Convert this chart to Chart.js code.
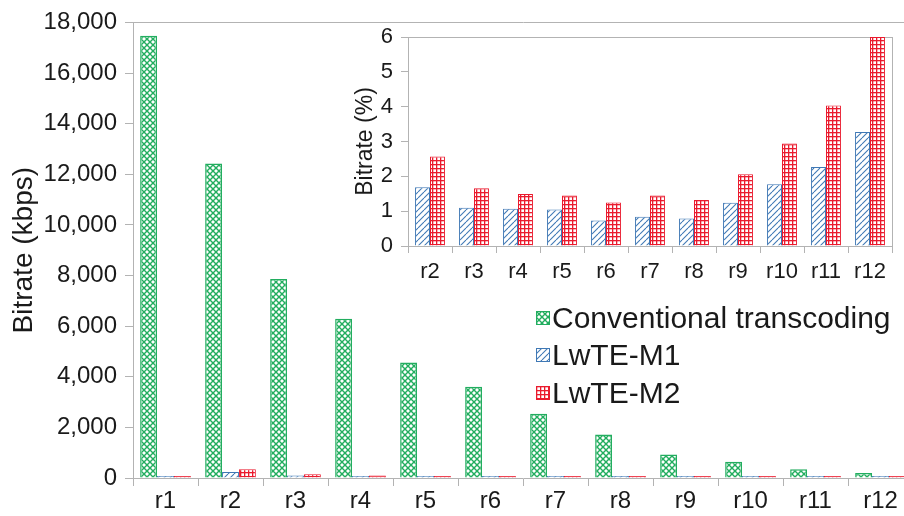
<!DOCTYPE html>
<html>
<head>
<meta charset="utf-8">
<script src="https://cdn.jsdelivr.net/npm/chart.js@4.4.1/dist/chart.umd.min.js"></script>
<style>
  body { margin: 0; background: #fff; overflow: hidden; }
  #wrap { position: relative; width: 920px; height: 516px; }
  #main { position: absolute; left: 0; top: 0; }
  #inset { position: absolute; left: 340px; top: 0; }
  #legend { position: absolute; left: 536px; top: 299px; font-family: 'Liberation Sans', Arial, sans-serif; font-size: 30px; color: #1a1a1a; }
  .row { display: flex; align-items: center; height: 37.5px; white-space: nowrap; }
  .row canvas { margin-right: 2px; }
</style>
</head>
<body>
<div id="wrap">
  <canvas id="main" width="914" height="516"></canvas>
  <canvas id="inset" width="560" height="300"></canvas>
  <div id="legend"></div>
</div>
<script>
// Data
const categories = ['r1', 'r2', 'r3', 'r4', 'r5', 'r6', 'r7', 'r8', 'r9', 'r10', 'r11', 'r12'];
const conventional = [17470, 12430, 7860, 6290, 4560, 3610, 2540, 1720, 930, 640, 350, 200];
const lwteM1 = [10, 240, 100, 75, 48, 26, 21, 14, 12, 11, 8, 6];
const lwteM2 = [10, 350, 150, 100, 66, 45, 37, 23, 19, 19, 14, 12];

const insetCategories = ['r2', 'r3', 'r4', 'r5', 'r6', 'r7', 'r8', 'r9', 'r10', 'r11', 'r12'];
const lwteM1Pct = [1.69, 1.10, 1.07, 1.05, 0.73, 0.84, 0.79, 1.24, 1.77, 2.27, 3.27];
const lwteM2Pct = [2.57, 1.66, 1.49, 1.45, 1.25, 1.45, 1.32, 2.06, 2.94, 4.03, 6.0];

const seriesNames = ['Conventional transcoding', 'LwTE-M1', 'LwTE-M2'];

const GREEN = '#22ad5f';
const BLUE = '#3f78b5';
const RED = '#ea1a2d';
const AXIS = '#b3b3b3';
const TEXT = '#1a1a1a';

Chart.defaults.font.family = "'Liberation Sans', Arial, sans-serif";
Chart.defaults.color = TEXT;

// Fill patterns
function makePattern(kind) {
    const c = document.createElement('canvas');
    const size = kind === 'grid' ? 4 : 6;
    c.width = size;
    c.height = size;
    const g = c.getContext('2d');
    g.fillStyle = '#fff';
    g.fillRect(0, 0, size, size);
    if (kind === 'cross') {
        g.strokeStyle = GREEN;
        g.lineWidth = 1.4;
        for (let k = -6; k <= 6; k += 6) {
            g.beginPath(); g.moveTo(k, 0); g.lineTo(k + 6, 6); g.stroke();
            g.beginPath(); g.moveTo(k + 6, 0); g.lineTo(k, 6); g.stroke();
        }
    } else if (kind === 'diag') {
        g.strokeStyle = BLUE;
        g.lineWidth = 1.1;
        for (let k = -6; k <= 6; k += 6) {
            g.beginPath(); g.moveTo(k, 6); g.lineTo(k + 6, 0); g.stroke();
        }
    } else {
        g.fillStyle = RED;
        g.fillRect(0, 0, size, 1.3);
        g.fillRect(0, 0, 1.3, size);
    }
    return g.createPattern(c, 'repeat');
}

const greenFill = makePattern('cross');
const blueFill = makePattern('diag');
const redFill = makePattern('grid');

// Main chart
const mainChart = new Chart(document.getElementById('main'), {
    type: 'bar',
    data: {
        labels: categories,
        datasets: [
            { label: seriesNames[0], data: conventional, backgroundColor: greenFill, borderColor: GREEN, borderWidth: 1.5 },
            { label: seriesNames[1], data: lwteM1, backgroundColor: blueFill, borderColor: BLUE, borderWidth: 1, minBarLength: 2 },
            { label: seriesNames[2], data: lwteM2, backgroundColor: redFill, borderColor: RED, borderWidth: 1, minBarLength: 2 }
        ]
    },
    options: {
        responsive: false,
        animation: false,
        layout: { padding: { left: 0, right: 1, top: 0, bottom: 0 } },
        datasets: { bar: { categoryPercentage: 0.78, barPercentage: 1 } },
        plugins: { legend: { display: false }, tooltip: { enabled: false } },
        scales: {
            x: {
                grid: { offset: true, drawOnChartArea: false, tickLength: 8, color: AXIS },
                border: { color: AXIS },
                ticks: { font: { size: 24 }, padding: 1 },
                afterFit: function(s) { s.height = 38; }
            },
            x2: {
                type: 'category',
                position: 'top',
                labels: categories,
                grid: { display: false },
                ticks: { display: false },
                border: { color: AXIS },
                afterFit: function(s) { s.height = 20; }
            },
            y: {
                min: 0,
                max: 18000,
                ticks: {
                    stepSize: 2000,
                    font: { size: 24 },
                    padding: 8,
                    callback: function(v) { return Number(v).toLocaleString('en-US'); }
                },
                grid: { drawOnChartArea: false, tickLength: 8, color: AXIS },
                border: { color: AXIS },
                title: { display: true, text: 'Bitrate (kbps)', font: { size: 28 }, padding: { top: 7, bottom: 0 } },
                afterFit: function(s) { s.width = 133; }
            }
        }
    }
});

// Inset chart
const insetChart = new Chart(document.getElementById('inset'), {
    type: 'bar',
    data: {
        labels: insetCategories,
        datasets: [
            { label: seriesNames[1], data: lwteM1Pct, backgroundColor: blueFill, borderColor: BLUE, borderWidth: 1 },
            { label: seriesNames[2], data: lwteM2Pct, backgroundColor: redFill, borderColor: RED, borderWidth: 1 }
        ]
    },
    options: {
        responsive: false,
        animation: false,
        layout: { padding: { left: 0, right: 8, top: 37, bottom: 0 } },
        datasets: { bar: { categoryPercentage: 0.68, barPercentage: 1 } },
        plugins: { legend: { display: false }, tooltip: { enabled: false } },
        scales: {
            x: {
                grid: { offset: true, drawOnChartArea: false, tickLength: 7, color: AXIS },
                border: { color: AXIS },
                ticks: { font: { size: 22 }, padding: 6 },
                afterFit: function(s) { s.height = 54; }
            },
            x2: {
                type: 'category',
                position: 'top',
                labels: insetCategories,
                grid: { display: false },
                ticks: { display: false },
                border: { color: AXIS },
                afterFit: function(s) { s.height = 0; }
            },
            y: {
                min: 0,
                max: 6,
                ticks: { stepSize: 1, font: { size: 22 }, padding: 8 },
                grid: { drawOnChartArea: false, tickLength: 7, color: AXIS },
                border: { color: AXIS },
                title: { display: true, text: 'Bitrate (%)', font: { size: 23 }, padding: { top: 12, bottom: 0 } },
                afterFit: function(s) { s.width = 68; }
            },
            y2: {
                position: 'right',
                min: 0,
                max: 6,
                grid: { display: false },
                ticks: { display: false },
                border: { color: AXIS },
                afterFit: function(s) { s.width = 0; }
            }
        }
    }
});

// Legend (HTML, swatches use same patterns)
const legendEl = document.getElementById('legend');
const legendStyles = [
    [greenFill, GREEN],
    [blueFill, BLUE],
    [redFill, RED]
];
seriesNames.forEach(function(name, i) {
    const row = document.createElement('div');
    row.className = 'row';
    const sw = document.createElement('canvas');
    sw.width = 14;
    sw.height = 14;
    const g = sw.getContext('2d');
    g.fillStyle = legendStyles[i][0];
    g.fillRect(0, 0, 14, 14);
    g.strokeStyle = legendStyles[i][1];
    g.lineWidth = 1;
    g.strokeRect(0.5, 0.5, 13, 13);
    const span = document.createElement('span');
    span.textContent = name;
    row.appendChild(sw);
    row.appendChild(span);
    legendEl.appendChild(row);
});
</script>
</body>
</html>
